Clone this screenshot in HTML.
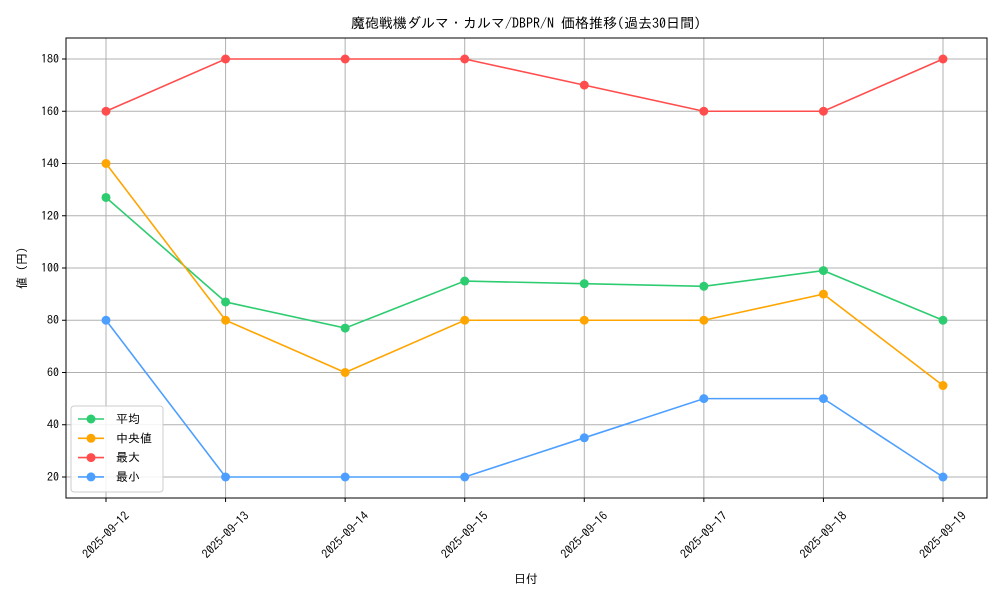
<!DOCTYPE html>
<html><head><meta charset="utf-8">
<style>
body{margin:0;background:#fff;}
svg text{font-family:"IPAGothic","Noto Sans CJK JP",sans-serif;fill:#000;}
</style></head>
<body>
<svg id="chart" width="1000" height="600" xmlns="http://www.w3.org/2000/svg"></svg>
<script>
const categories=["2025-09-12","2025-09-13","2025-09-14","2025-09-15","2025-09-16","2025-09-17","2025-09-18","2025-09-19"];
const meanValues=[127,87,77,95,94,93,99,80];
const medianValues=[140,80,60,80,80,80,90,55];
const maxValues=[160,180,180,180,170,160,160,180];
const minValues=[80,20,20,20,35,50,50,20];
const yTicks=[20,40,60,80,100,120,140,160,180];
const seriesNames=["平均","中央値","最大","最小"];

const NS="http://www.w3.org/2000/svg";
const svg=document.getElementById('chart');
const L=66,R=987,T=38,B=498,yMin=11.96,yMax=188.04;
const x=i=>106+i*(943-106)/(categories.length-1);
const y=v=>B-(v-yMin)/(yMax-yMin)*(B-T);
function el(tag,attrs,parent){const e=document.createElementNS(NS,tag);for(const k in attrs)e.setAttribute(k,attrs[k]);(parent||svg).appendChild(e);return e;}

const grid=el('g',{});


categories.forEach((c,i)=>{el('line',{x1:x(i),x2:x(i),y1:T,y2:B,stroke:'#b0b0b0','stroke-width':1},grid);});
yTicks.forEach(v=>{el('line',{x1:L,x2:R,y1:y(v),y2:y(v),stroke:'#b0b0b0','stroke-width':1},grid);});

const yAxis=el('g',{});


yTicks.forEach(v=>{
  el('line',{x1:L-4,x2:L,y1:y(v),y2:y(v),stroke:'#000'},yAxis);
  const t=el('text',{x:L-7,y:y(v)+4,'text-anchor':'end','font-size':12},yAxis);t.textContent=v;
  
  
});
const xAxis=el('g',{});


categories.forEach((c,i)=>{
  el('line',{x1:x(i),x2:x(i),y1:B,y2:B+4,stroke:'#000'},xAxis);
  const cx=x(i), cy=B+37;
  const t=el('text',{x:cx,y:cy,'text-anchor':'middle','dominant-baseline':'central','font-size':12,transform:`rotate(-45 ${cx} ${cy})`},xAxis);t.textContent=c;
  
  
});

const series=[[meanValues,'#2ecc71'],[medianValues,'#ffa500'],[maxValues,'#ff4d4d'],[minValues,'#4d9fff']];
const plotG=el('g',{});


series.forEach(([vals,col],si)=>{
  const g=el('g',{},plotG);
  
  
  el('polyline',{points:vals.map((v,i)=>x(i)+','+y(v)).join(' '),fill:'none',stroke:col,'stroke-width':1.6},g);
  vals.forEach((v,i)=>{
    const c=el('circle',{cx:x(i),cy:y(v),r:4.5,fill:col},g);
    
    
  });
});

el('rect',{x:L,y:T,width:R-L,height:B-T,fill:'none',stroke:'#000','stroke-width':1});

const legend=el('g',{});


el('rect',{x:71,y:406,width:92,height:86,rx:3,fill:'#fff','fill-opacity':0.85,stroke:'#ccc'},legend);
series.forEach(([v,col],i)=>{
  const ly=419+i*19.3;
  const e=el('g',{},legend);
  
  
  el('line',{x1:78,x2:104,y1:ly,y2:ly,stroke:col,'stroke-width':1.6},e);
  el('circle',{cx:91,cy:ly,r:4.5,fill:col},e);
  const t=el('text',{x:116,y:ly+4,'font-size':12},e);t.textContent=seriesNames[i];
});

const title=el('text',{x:526,y:28,'text-anchor':'middle','font-size':14});
title.textContent='魔砲戦機ダルマ・カルマ/DBPR/N 価格推移(過去30日間)';


const xt=el('text',{x:526,y:583,'text-anchor':'middle','font-size':12});
xt.textContent='日付';


const yt=el('text',{x:26,y:268,'text-anchor':'middle','font-size':12,transform:'rotate(-90 26 268)'});
yt.textContent='値 (円)';


</script>
</body></html>
